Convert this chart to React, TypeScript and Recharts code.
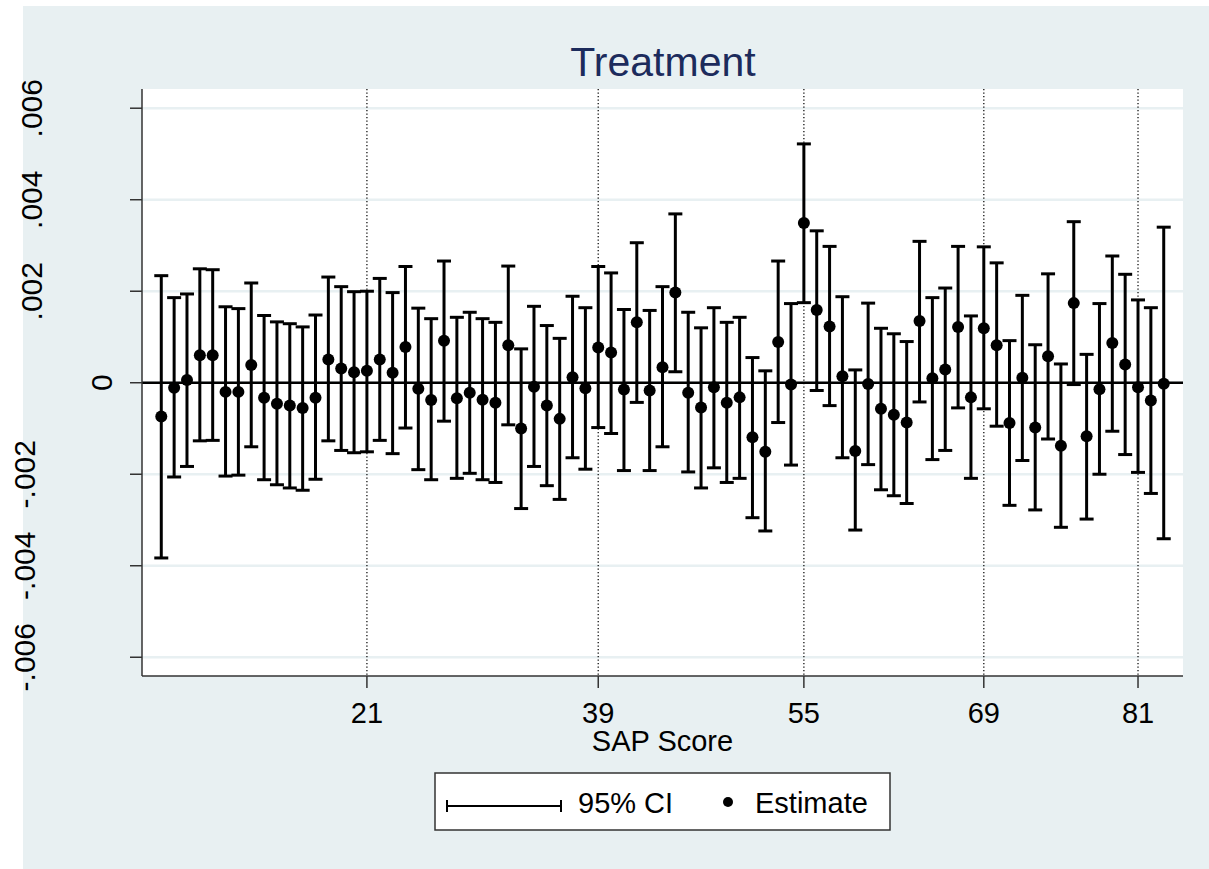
import { ScatterChart, Scatter, XAxis, YAxis, CartesianGrid, ErrorBar, ReferenceLine } from "recharts"

const FONT = "'Liberation Sans', Arial, Helvetica, sans-serif"

// SAP score categories on the x axis
const sapScores = [
  5, 6, 7, 8, 9, 10, 11, 12, 13, 14, 15, 16, 17, 18, 19, 20, 21, 22, 23, 24,
  25, 26, 27, 28, 29, 30, 31, 32, 33, 34, 35, 36, 37, 38, 39, 40, 41, 42, 43, 44,
  45, 46, 47, 48, 49, 50, 51, 52, 53, 54, 55, 56, 57, 58, 59, 60, 61, 62, 63, 64,
  65, 66, 67, 68, 69, 70, 71, 72, 73, 74, 75, 76, 77, 78, 79, 80, 81, 82, 83,
]

// point estimates
const estimates = [
  -0.00074, -0.00011, 0.00006, 0.0006, 0.0006, -0.0002, -0.0002, 0.00039, -0.00033, -0.00046,
  -0.0005, -0.00055, -0.00033, 0.00051, 0.00031, 0.00023, 0.00026, 0.00051, 0.00022, 0.00078,
  -0.00013, -0.00038, 0.00092, -0.00034, -0.00022, -0.00037, -0.00044, 0.00082, -0.001, -0.00009,
  -0.0005, -0.00079, 0.00012, -0.00012, 0.00077, 0.00066, -0.00015, 0.00132, -0.00017, 0.00034,
  0.00197, -0.00022, -0.00054, -0.0001, -0.00044, -0.00032, -0.00119, -0.00151, 0.00089, -0.00004,
  0.00349, 0.00159, 0.00123, 0.00014, -0.00149, -0.00003, -0.00057, -0.0007, -0.00087, 0.00135,
  0.0001, 0.00029, 0.00122, -0.00032, 0.00119, 0.00082, -0.00088, 0.00011, -0.00098, 0.00058,
  -0.00138, 0.00174, -0.00117, -0.00014, 0.00087, 0.0004, -0.0001, -0.00039, -0.00002,
]

// 95% CI lower bounds
const ciLower = [
  -0.00383, -0.00206, -0.00183, -0.00127, -0.00126, -0.00204, -0.00202, -0.0014, -0.00212, -0.00223,
  -0.0023, -0.00235, -0.00211, -0.00127, -0.00148, -0.00153, -0.00151, -0.00126, -0.00155, -0.00099,
  -0.0019, -0.00212, -0.00084, -0.00209, -0.00198, -0.00212, -0.00218, -0.00092, -0.00275, -0.00183,
  -0.00225, -0.00255, -0.00164, -0.00189, -0.00098, -0.00111, -0.00192, -0.00043, -0.00192, -0.0014,
  0.00024, -0.00195, -0.0023, -0.00186, -0.00218, -0.00209, -0.00295, -0.00324, -0.00087, -0.0018,
  0.00175, -0.00017, -0.0005, -0.00164, -0.00322, -0.00179, -0.00234, -0.00247, -0.00264, -0.00042,
  -0.00168, -0.00148, -0.00055, -0.00209, -0.00057, -0.00095, -0.00268, -0.0017, -0.00278, -0.00123,
  -0.00316, -0.00004, -0.00298, -0.002, -0.00106, -0.00157, -0.00196, -0.00242, -0.00341,
]

// 95% CI upper bounds
const ciUpper = [
  0.00234, 0.00186, 0.00194, 0.00249, 0.00247, 0.00166, 0.00162, 0.00218, 0.00147, 0.00133,
  0.00129, 0.00122, 0.00148, 0.00231, 0.0021, 0.00199, 0.002, 0.00228, 0.00197, 0.00254,
  0.00163, 0.0014, 0.00266, 0.00143, 0.00154, 0.0014, 0.00132, 0.00255, 0.00074, 0.00167,
  0.00125, 0.00097, 0.00189, 0.00164, 0.00254, 0.0024, 0.0016, 0.00306, 0.00158, 0.0021,
  0.00369, 0.00154, 0.0012, 0.00164, 0.00132, 0.00143, 0.00055, 0.00026, 0.00266, 0.00173,
  0.00522, 0.00332, 0.00298, 0.00188, 0.00028, 0.00174, 0.00119, 0.00107, 0.0009, 0.00309,
  0.00186, 0.00207, 0.00298, 0.00146, 0.00297, 0.00262, 0.00092, 0.00191, 0.00083, 0.00238,
  0.00041, 0.00352, 0.00062, 0.00173, 0.00277, 0.00237, 0.00181, 0.00164, 0.0034,
]

const xTicks = [21, 39, 55, 69, 81]
const yTicks = [-0.006, -0.004, -0.002, 0, 0.002, 0.004, 0.006]

const data = sapScores.map((s, i) => ({
  sap: s,
  est: estimates[i],
  ci: [estimates[i] - ciLower[i], ciUpper[i] - estimates[i]],
}))

const fmtY = (v: number) => {
  if (v === 0) return "0"
  return (v < 0 ? "-" : "") + Math.abs(v).toFixed(3).replace(/^0/, "")
}

// stata style rotated y labels
const YTick = (props: any) => {
  const { y, payload } = props
  const v = payload.value
  const bx = v === 0 ? 112 : v > 0 ? 42 : 35
  return (
    <text
      x={bx}
      y={y}
      transform={`rotate(-90 ${bx} ${y})`}
      textAnchor="middle"
      fontSize={30}
      fontFamily={FONT}
      fill="#000"
    >
      {fmtY(v)}
    </text>
  )
}

const Dot = (props: any) => <circle cx={props.cx} cy={props.cy} r={6} fill="#000" />

export default function App() {
  return (
    <div style={{ position: "relative", width: 1209, height: 869, background: "#fff", overflow: "hidden" }}>
      <style>{"body{margin:0}"}</style>
      <div style={{ position: "absolute", left: 23, top: 6, width: 1186, height: 863, background: "#E8F0F2" }} />
      <div style={{ position: "absolute", left: 0, top: 0 }}>
        <ScatterChart width={1209} height={869} margin={{ top: 89, right: 26, bottom: 103, left: 0 }}>
          <CartesianGrid
            vertical={false}
            horizontalValues={yTicks}
            stroke="#E8F0F2"
            strokeWidth={2.5}
            fill="#fff"
          />
          <CartesianGrid
            horizontal={false}
            verticalValues={xTicks}
            stroke="#222"
            strokeWidth={1.4}
            strokeDasharray="1.3 2.2"
          />
          <XAxis
            type="number"
            dataKey="sap"
            domain={[3.5, 84.5]}
            ticks={xTicks}
            allowDataOverflow
            height={90}
            tickSize={12}
            tickMargin={14}
            axisLine={{ stroke: "#333", strokeWidth: 1.5 }}
            tickLine={{ stroke: "#333", strokeWidth: 1.5 }}
            tick={{ fill: "#000", fontSize: 29, fontFamily: FONT }}
            label={(p: any) => (
              <text
                x={p.viewBox.x + p.viewBox.width / 2}
                y={p.viewBox.y + 75}
                textAnchor="middle"
                fontSize={29}
                fontFamily={FONT}
                fill="#000"
              >
                SAP Score
              </text>
            )}
          />
          <YAxis
            type="number"
            dataKey="est"
            domain={[-0.00641, 0.00642]}
            ticks={yTicks}
            allowDataOverflow
            width={142}
            tickSize={12}
            axisLine={{ stroke: "#333", strokeWidth: 1.5 }}
            tickLine={{ stroke: "#333", strokeWidth: 1.5 }}
            tick={<YTick />}
          />
          <ReferenceLine y={0} stroke="#000" strokeWidth={2.5} />
          <Scatter data={data} dataKey="est" isAnimationActive={false} shape={<Dot />}>
            <ErrorBar dataKey="ci" direction="y" width={7} strokeWidth={3} stroke="#000" isAnimationActive={false} />
          </Scatter>
        </ScatterChart>
      </div>
      <svg width={1209} height={869} style={{ position: "absolute", left: 0, top: 0, pointerEvents: "none" }}>
        <text x={663} y={76} textAnchor="middle" fontSize={41} fontFamily={FONT} fill="#1C2B5C">
          Treatment
        </text>
        <rect x={435} y={773} width={455} height={57} fill="#fff" stroke="#333" strokeWidth={1.5} />
        <line x1={447} y1={806} x2={561} y2={806} stroke="#000" strokeWidth={2} />
        <line x1={447} y1={800} x2={447} y2={812} stroke="#000" strokeWidth={2} />
        <line x1={561} y1={800} x2={561} y2={812} stroke="#000" strokeWidth={2} />
        <text x={578} y={813} fontSize={29} fontFamily={FONT} fill="#000">
          95% CI
        </text>
        <circle cx={728} cy={802} r={5} fill="#000" />
        <text x={755} y={813} fontSize={29} fontFamily={FONT} fill="#000">
          Estimate
        </text>
      </svg>
    </div>
  )
}
